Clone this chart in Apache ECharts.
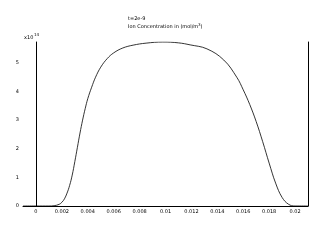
<!DOCTYPE html>
<html><head><meta charset="utf-8">
<script src="https://cdn.jsdelivr.net/npm/echarts@6/dist/echarts.min.js"></script>
<style>html,body{margin:0;padding:0;background:#fff}#c{width:320px;height:240px}</style>
</head><body><div id="c"></div>
<script>
var xPos = [-0.001, 0, 0.001, 0.0014, 0.0018, 0.002, 0.0022, 0.0024, 0.0026, 0.0028, 0.003, 0.0032, 0.0034, 0.0036, 0.0038, 0.004, 0.0043, 0.0046, 0.005, 0.0055, 0.006, 0.0067, 0.0075, 0.0085, 0.0098, 0.011, 0.0119, 0.0132, 0.0145, 0.0155, 0.016, 0.0165, 0.017, 0.0175, 0.018, 0.0185, 0.019, 0.0195, 0.02, 0.021];
var conc = [0, 0, 0, 0.01, 0.06, 0.13, 0.25, 0.45, 0.72, 1.08, 1.55, 2.05, 2.55, 3.0, 3.4, 3.75, 4.15, 4.5, 4.85, 5.15, 5.35, 5.52, 5.62, 5.69, 5.73, 5.70, 5.63, 5.49, 5.1, 4.5, 4.06, 3.55, 2.95, 2.25, 1.5, 0.8, 0.3, 0.06, 0, 0];
var xTicks = [0, 0.002, 0.004, 0.006, 0.008, 0.01, 0.012, 0.014, 0.016, 0.018, 0.02];
var yTicks = [0, 1, 2, 3, 4, 5];
var titleLines = ['t=2e-9', 'Ion Concentration in (mol/m'];

var chart = echarts.init(document.getElementById('c'), null, {renderer: 'canvas'});
var data = xPos.map(function (x, i) { return [x, conc[i]]; });
var fontFam = 'DejaVu Sans';
chart.setOption({
  animation: false,
  grid: {left: 23, right: 12, top: 42, bottom: 34},
  xAxis: {
    type: 'value', min: -0.001, max: 0.021,
    axisLine: {show: true, onZero: false, lineStyle: {color: '#000', width: 1}},
    axisTick: {show: false},
    splitLine: {show: false},
    axisLabel: {customValues: xTicks, fontSize: 5, color: '#000', fontFamily: fontFam, margin: 3,
      formatter: function (v) { return String(+v.toFixed(3)); }}
  },
  yAxis: [{
    type: 'value', min: 0, max: 5.73,
    axisLine: {show: true, lineStyle: {color: '#000', width: 1}},
    axisTick: {show: false},
    splitLine: {show: false},
    axisLabel: {customValues: yTicks, fontSize: 5, color: '#000', fontFamily: fontFam, margin: 4}
  }, {
    type: 'value', min: 0, max: 5.73, position: 'right',
    axisLine: {show: true, lineStyle: {color: '#000', width: 1}},
    axisTick: {show: false}, axisLabel: {show: false}, splitLine: {show: false}
  }],
  series: [{
    type: 'line', data: data, showSymbol: false, smooth: 0.4,
    lineStyle: {color: '#000', width: 0.8}
  }],
  graphic: [
    {type: 'text', left: 24, top: 35, style: {text: 'x10', fontSize: 5, fill: '#000', fontFamily: fontFam}},
    {type: 'text', left: 34, top: 33, style: {text: '14', fontSize: 4, fill: '#000', fontFamily: fontFam}},
    {type: 'text', left: 128, top: 16, style: {text: titleLines[0], fontSize: 5, fill: '#000', fontFamily: fontFam}},
    {type: 'text', left: 128, top: 23, style: {text: titleLines[1] + '{s|3}' + ')', fontSize: 5, fill: '#000', fontFamily: fontFam,
      rich: {s: {fontSize: 4, verticalAlign: 'top', padding: [0, 0, 3, 0], fill: '#000'}}}}
  ]
});
</script></body></html>
